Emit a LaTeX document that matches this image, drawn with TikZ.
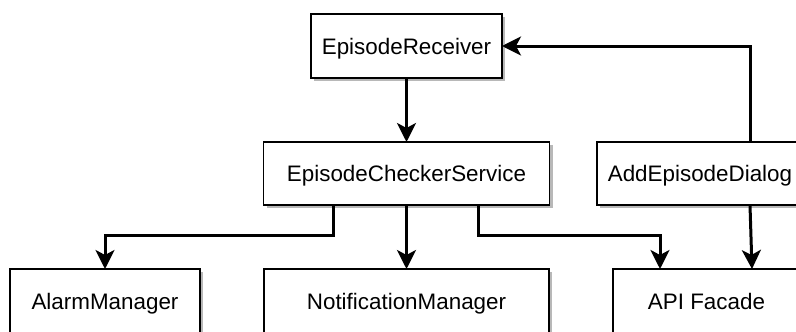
\documentclass[tikz,border=0pt]{standalone}
\usepackage{fontspec}
\setmainfont{Liberation Sans}
\usetikzlibrary{arrows.meta,shadows}
\begin{document}
\begin{tikzpicture}[x=1pt,y=-1pt,
  box/.style={draw=black, line width=1.5pt, fill=white, inner sep=0pt, outer sep=0pt,
    text height=20pt, text depth=4pt,
    font=\fontsize{22.4}{26}\selectfont,
    drop shadow={shadow xshift=3pt, shadow yshift=-3pt, fill=black!28, opacity=1}},
  conn/.style={line width=3pt, -{Stealth[length=19pt,width=19pt,inset=5pt]}}]
\useasboundingbox (0,0) rectangle (796,332);
\clip (0,0) rectangle (796,332);
\node[box, minimum width=191pt, minimum height=64pt] (ER) at (406.5,46) {EpisodeReceiver};
\node[box, minimum width=286pt, minimum height=63pt] (ECS) at (406.5,173.5) {EpisodeCheckerService};
\node[box, minimum width=206pt, minimum height=63pt] (AED) at (700,173.5) {AddEpisodeDialog};
\node[box, minimum width=190pt, minimum height=64pt] (AM) at (105,301) {AlarmManager};
\node[box, minimum width=285pt, minimum height=64pt] (NM) at (406.5,301) {NotificationManager};
\node[box, minimum width=187pt, minimum height=64pt] (API) at (706.5,301) {API Facade};
\draw[conn] (ER.south) -- (ECS.north);
\draw[conn] ([xshift=50pt]AED.north) |- (ER.east);
\draw[conn] ([xshift=-73.5pt]ECS.south) -- ++(0,30) -| (AM.north);
\draw[conn] (ECS.south) -- (NM.north);
\draw[conn] ([xshift=71.5pt]ECS.south) -- ++(0,30) -| ([xshift=-46.5pt]API.north);
\draw[conn] ([xshift=50pt]AED.south) -- ([xshift=45.5pt]API.north);
\end{tikzpicture}
\end{document}
